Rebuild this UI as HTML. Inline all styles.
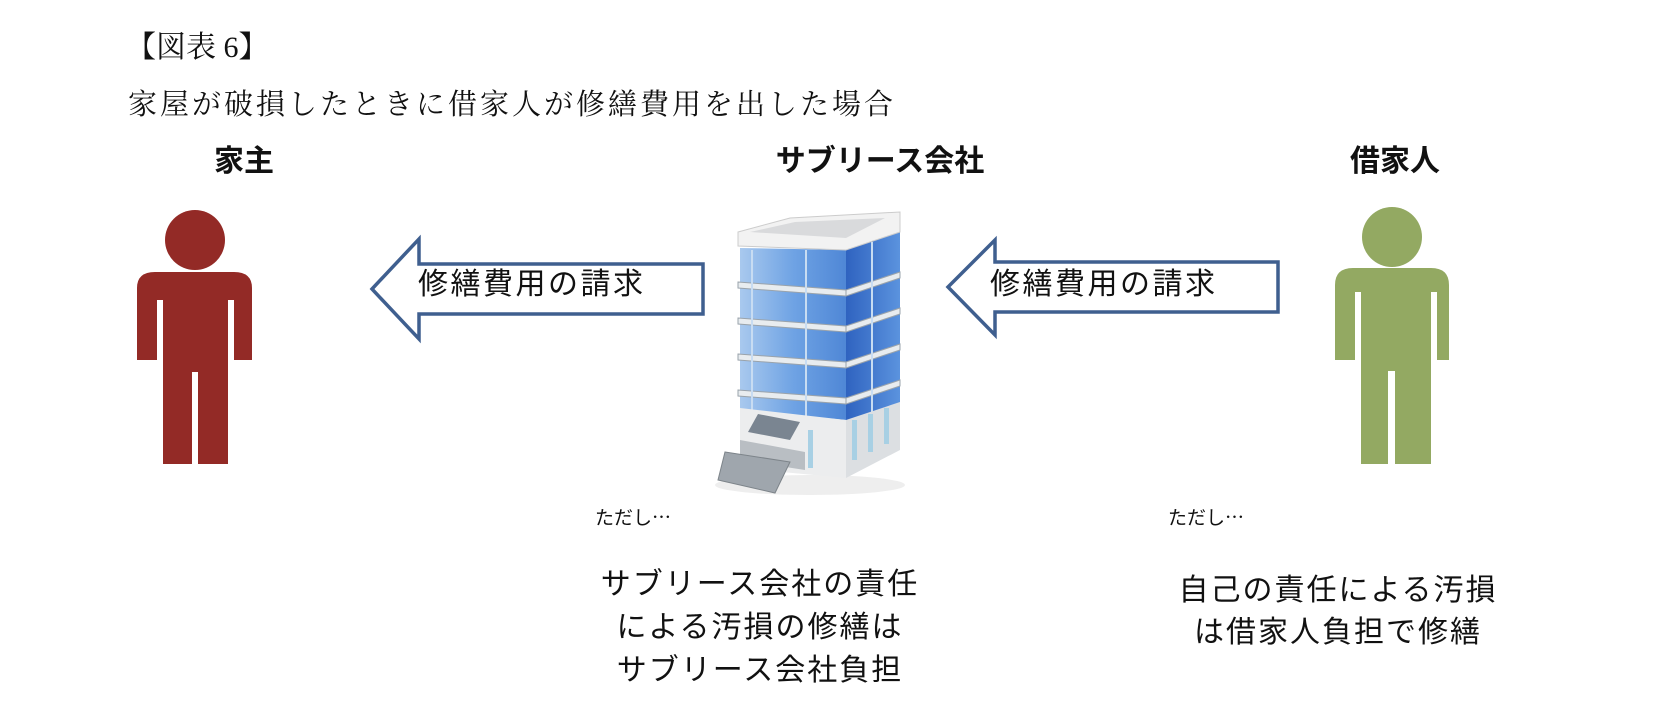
<!DOCTYPE html>
<html><head><meta charset="utf-8"><style>
html,body{margin:0;padding:0;background:#fff;}
body{width:1658px;height:705px;position:relative;overflow:hidden;}
.t{position:absolute;white-space:nowrap;color:#111;line-height:1;}
.serif{font-family:"Liberation Serif","Noto Serif CJK SC",serif;}
.sans{font-family:"Liberation Sans","Noto Sans CJK JP",sans-serif;}
.jp{font-family:"Noto Sans CJK JP",sans-serif;}
.c{transform:translateX(-50%);text-align:center;}
</style></head><body>
<svg width="1658" height="705" style="position:absolute;left:0;top:0">
<defs>
<linearGradient id="fr" x1="0" y1="0" x2="1" y2="0"><stop offset="0" stop-color="#a9c9ee"/><stop offset="0.5" stop-color="#6fa3e4"/><stop offset="1" stop-color="#4f87d6"/></linearGradient>
<linearGradient id="sd" x1="0" y1="0" x2="1" y2="0"><stop offset="0" stop-color="#2f63c0"/><stop offset="1" stop-color="#5b93de"/></linearGradient>
</defs>
<!-- red person -->
<g fill="#932a26">
<circle cx="195" cy="240" r="30"/>
<path d="M137 360 V288 Q137 272 155 272 H234 Q252 272 252 288 V360 H234 V300 H228 V464 H198 V372 H192 V464 H163 V300 H157 V360 Z"/>
</g>
<!-- green person -->
<g fill="#93a962">
<circle cx="1392" cy="237" r="30"/>
<path d="M1335 360 V285 Q1335 268 1353 268 H1431 Q1449 268 1449 285 V360 H1437 V292 H1431 V464 H1395 V371 H1388 V464 H1361 V292 H1355 V360 Z"/>
</g>
<!-- arrows -->
<path d="M372 289 L419 239 V264 H703 V314 H419 V339 Z" fill="#fff" stroke="#3f5f8f" stroke-width="3.5"/>
<path d="M948 287 L995 240 V262 H1278 V312 H995 V335 Z" fill="#fff" stroke="#3f5f8f" stroke-width="3.5"/>
<!-- building -->
<g>
<ellipse cx="810" cy="485" rx="95" ry="10" fill="#eee"/>
<polygon points="846,250 900,232 900,440 846,462" fill="url(#sd)"/>
<polygon points="740,248 846,250 846,420 740,410" fill="url(#fr)"/>
<g fill="#e8ecef" stroke="#9aa3ab" stroke-width="1">
<polygon points="738,282 846,290 846,296 738,288"/>
<polygon points="738,318 846,326 846,332 738,324"/>
<polygon points="738,354 846,362 846,368 738,360"/>
<polygon points="738,390 846,398 846,404 738,396"/>
<polygon points="846,290 900,272 900,278 846,296"/>
<polygon points="846,326 900,308 900,314 846,332"/>
<polygon points="846,362 900,344 900,350 846,368"/>
<polygon points="846,398 900,380 900,386 846,404"/>
</g>
<g stroke="#c8dcf2" stroke-width="2"><line x1="752" y1="250" x2="752" y2="410"/><line x1="806" y1="250" x2="806" y2="416"/><line x1="872" y1="242" x2="872" y2="450"/></g>
<polygon points="738,232 790,218 900,212 900,232 846,250 738,246" fill="#f2f2f2" stroke="#ccc"/>
<polygon points="750,232 795,222 885,218 846,238" fill="#d9dadc"/>
<polygon points="740,408 846,420 846,478 740,468" fill="#ecedee"/>
<polygon points="846,420 900,402 900,450 846,478" fill="#dcdfe2"/>
<g fill="#a8d0e4"><rect x="852" y="420" width="5" height="40"/><rect x="868" y="414" width="5" height="38"/><rect x="884" y="408" width="5" height="36"/><rect x="808" y="430" width="5" height="38"/></g>
<polygon points="758,414 800,422 790,440 748,432" fill="#7a8591"/>
<polygon points="740,440 805,452 805,470 740,460" fill="#b9bec3"/>
<polygon points="725,452 790,462 775,493 718,480" fill="#9fa6ad" stroke="#7d848a"/>
</g>
</svg>
<div class="t serif" style="left:126px;top:33px;font-size:30px;">【図表 6】</div>
<div class="t serif" style="left:128px;top:91px;font-size:29px;letter-spacing:3px;">家屋が破損したときに借家人が修繕費用を出した場合</div>
<div class="t sans c" style="left:244px;top:147px;font-size:30px;font-weight:bold;">家主</div>
<div class="t sans c" style="left:880px;top:147px;font-size:30px;font-weight:bold;">サブリース会社</div>
<div class="t sans c" style="left:1395px;top:147px;font-size:30px;font-weight:bold;">借家人</div>
<div class="t sans" style="left:418px;top:270px;font-size:30px;letter-spacing:2.5px;">修繕費用の請求</div>
<div class="t sans" style="left:990px;top:270px;font-size:30px;letter-spacing:2.5px;">修繕費用の請求</div>
<div class="t jp" style="left:595px;top:507px;font-size:19px;">ただし…</div>
<div class="t jp" style="left:1168px;top:507px;font-size:19px;">ただし…</div>
<div class="t sans c" style="left:760px;top:563px;font-size:30px;letter-spacing:2px;line-height:43px;">サブリース会社の責任<br>による汚損の修繕は<br>サブリース会社負担</div>
<div class="t sans c" style="left:1338px;top:570px;font-size:30px;letter-spacing:2px;line-height:42px;">自己の責任による汚損<br>は借家人負担で修繕</div>
</body></html>
